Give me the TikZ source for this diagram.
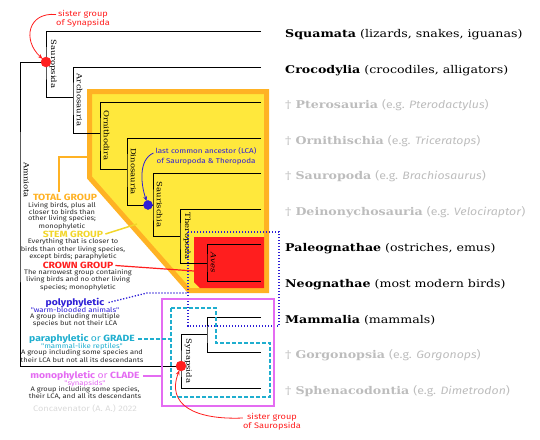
\documentclass[tikz,border=0pt]{standalone}
\usepackage{fontspec}
\setmainfont{DejaVu Serif}[FakeStretch=1.18]
\newfontfamily\annfont{Fira Sans}[FakeStretch=1.15]
\usepackage{xcolor}
\usetikzlibrary{arrows.meta}

\definecolor{crownred}{HTML}{FF1E1E}
\definecolor{totalorange}{HTML}{FFB224}
\definecolor{stemyellow}{HTML}{FFE83C}
\definecolor{stemtext}{HTML}{F2D62A}
\definecolor{polyblue}{HTML}{2E1ED6}
\definecolor{paracyan}{HTML}{1FAECF}
\definecolor{monopink}{HTML}{E46CF2}
\definecolor{extinctgray}{HTML}{BDBDBD}
\definecolor{bodygray}{HTML}{2A2A2A}
\definecolor{creditgray}{HTML}{DADADA}

\tikzset{
    branch/.style={line width=0.9pt},
    cladename/.style={rotate=-90, anchor=south, inner sep=1.5pt, font=\fontsize{7.2}{7.2}\selectfont},
    taxon/.style={anchor=base west, inner sep=0pt, font=\fontsize{10.7}{10.7}\selectfont},
    extinct/.style={taxon, text=extinctgray},
    grouphead/.style={inner sep=0pt, font=\annfont\bfseries\fontsize{9}{9}\selectfont},
    groupquote/.style={inner sep=0pt, font=\annfont\fontsize{6.8}{7}\selectfont},
    grouptext/.style={inner sep=0pt, align=center, text=bodygray, font=\annfont\fontsize{6.5}{5.9}\selectfont},
    totalline/.style={totalorange, line width=1.5pt},
    stemline/.style={stemtext, line width=1.5pt},
    crownline/.style={crownred, line width=1.2pt},
    polyline/.style={polyblue, line width=1.3pt, dash pattern=on 1.3pt off 1.7pt},
    paraline/.style={paracyan, line width=1.5pt, dash pattern=on 4pt off 2pt},
    monoline/.style={monopink, line width=1.5pt},
    sister/.style={crownred, line width=0.8pt, -{Stealth[length=5pt]}, shorten >=4.5pt},
    lcaarrow/.style={polyblue, line width=0.8pt, -{Stealth[length=5pt]}, shorten >=4pt},
}

\begin{document}
\begin{tikzpicture}[x=1pt, y=-1pt]
    \useasboundingbox (0,0) rectangle (540,439);

    \filldraw[fill=stemyellow, draw=totalorange, line width=5pt] (89.5,91.5) -- (266.5,91.5) -- (266.5,290.5) -- (189,290.5) -- (89.5,177.5) -- cycle;
    \fill[crownred] (194,237) -- (264,237) -- (264,288) -- (200,288) -- (194,282) -- cycle;

    \coordinate (squ) at (261,31);
    \coordinate (cro) at (261,67);
    \coordinate (pte) at (261,102);
    \coordinate (orn) at (261,138);
    \coordinate (sap) at (261,173);
    \coordinate (dei) at (261,209);
    \coordinate (pal) at (261,244);
    \coordinate (neo) at (261,281);
    \coordinate (mam) at (261,317);
    \coordinate (gor) at (261,352);
    \coordinate (sph) at (261,388);

    \coordinate (amniota) at (20,200);
    \coordinate (sauropsida) at (46,62);
    \coordinate (archosauria) at (73,97);
    \coordinate (ornithodira) at (100,133);
    \coordinate (dinosauria) at (127,169);
    \coordinate (saurischia) at (153,205);
    \coordinate (theropoda) at (180,236);
    \coordinate (aves) at (207,263);
    \coordinate (synapsida) at (181,366);
    \coordinate (mammgorg) at (207,334);
    \coordinate (lca) at (148,205);

    \draw[branch] (sauropsida) -| (amniota) |- (synapsida);
    \draw[branch] (squ) -| (sauropsida) |- (archosauria);
    \draw[branch] (cro) -| (archosauria) |- (ornithodira);
    \draw[branch] (pte) -| (ornithodira) |- (dinosauria);
    \draw[branch] (orn) -| (dinosauria) |- (saurischia);
    \draw[branch] (sap) -| (saurischia) |- (theropoda);
    \draw[branch] (dei) -| (theropoda) |- (aves);
    \draw[branch] (pal) -| (aves) |- (neo);
    \draw[branch] (mammgorg) -| (synapsida) |- (sph);
    \draw[branch] (mam) -| (mammgorg) |- (gor);

    \node[cladename] (amniotaname) at (22,180) {Amniota};
    \node[cladename] (sauropsidaname) at (48,64) {Sauropsida};
    \node[cladename] (archosaurianame) at (75,100) {Archosauria};
    \node[cladename] (ornithodiraname) at (102,135.5) {Ornithodira};
    \node[cladename] (dinosaurianame) at (129,171.5) {Dinosauria};
    \node[cladename] (saurischianame) at (155,204.5) {Saurischia};
    \node[cladename] (theropodaname) at (182,236) {Theropoda};
    \node[cladename] (avesname) at (209,262.5) {\textit{Aves}};
    \node[cladename] (synapsidaname) at (183,361) {Synapsida};

    \draw[polyline] (188,232) rectangle (279,326);
    \draw[paraline] (171,308) -- (216,308) -- (216,343) -- (270,343) -- (270,397) -- (171,397) -- cycle;
    \draw[monoline] (162,299) rectangle (274,406);

    \filldraw[crownred] (sauropsida) circle (5pt);
    \filldraw[crownred] (synapsida) circle (5pt);
    \filldraw[polyblue] (lca) circle (4.5pt);

    \node[taxon] (squlabel) at (285,37) {\textbf{Squamata} (lizards, snakes, iguanas)};
    \node[taxon] (crolabel) at (285,73) {\textbf{Crocodylia} (crocodiles, alligators)};
    \node[extinct] (ptelabel) at (285,108) {† \textbf{Pterosauria} {\annfont(e.g. \textit{Pterodactylus})}};
    \node[extinct] (ornlabel) at (285,144) {† \textbf{Ornithischia} {\annfont(e.g. \textit{Triceratops})}};
    \node[extinct] (saplabel) at (285,179) {† \textbf{Sauropoda} {\annfont(e.g. \textit{Brachiosaurus})}};
    \node[extinct] (deilabel) at (285,215) {† \textbf{Deinonychosauria} {\annfont(e.g. \textit{Velociraptor})}};
    \node[taxon] (pallabel) at (285,251) {\textbf{Paleognathae} (ostriches, emus)};
    \node[taxon] (neolabel) at (285,287) {\textbf{Neognathae} (most modern birds)};
    \node[taxon] (mamlabel) at (285,323) {\textbf{Mammalia} (mammals)};
    \node[extinct] (gorlabel) at (285,358) {† \textbf{Gorgonopsia} {\annfont(e.g. \textit{Gorgonops})}};
    \node[extinct] (sphlabel) at (285,394) {† \textbf{Sphenacodontia} {\annfont(e.g. \textit{Dimetrodon})}};

    \node[align=center, text=crownred, inner sep=0pt, font=\annfont\fontsize{8}{9}\selectfont] (sisterA) at (83,18.5) {sister group\\of Synapsida};
    \node[align=center, text=crownred, inner sep=0pt, font=\annfont\fontsize{8}{9}\selectfont] (sisterB) at (272,422) {sister group\\of Sauropsida};
    \draw[sister] ([yshift=4pt]sisterA.west) .. controls (28,12) and (22,40) .. (sauropsida);
    \draw[sister] ([yshift=4pt]sisterB.west) .. controls (195,420) and (166,405) .. (synapsida);

    \node[align=center, text=polyblue, inner sep=0pt, font=\annfont\fontsize{7}{10}\selectfont] (lcatext) at (206,156) {last common ancestor (LCA)\\of Sauropoda \& Theropoda};
    \draw[lcaarrow] ([xshift=-2pt, yshift=3pt]lcatext.west) .. controls (138,160) and (141,185) .. (lca);

    \node[grouphead, text=totalorange] (totalhead) at (65,197.5) {TOTAL GROUP};
    \node[grouptext] (totaltext) at (62,216) {Living birds, plus all\\closer to birds than\\other living species;\\monophyletic};
    \coordinate (totaltip) at (88,157);
    \draw[totalline] ([xshift=-6pt, yshift=2pt]totalhead.north) |- (totaltip);

    \node[grouphead, text=stemtext] (stemhead) at (73,234) {STEM GROUP};
    \node[grouptext] (stemtextnode) at (73,249.5) {Everything that is closer to\\birds than other living species,\\except birds; paraphyletic};
    \coordinate (stemtip) at (137,224);
    \draw[stemline] ([xshift=2pt]stemhead.east) -- (stemtip);

    \node[grouphead, text=crownred] (crownhead) at (78,265.5) {CROWN GROUP};
    \node[grouptext] (crowntext) at (78,280) {The narrowest group containing\\living birds and no other living\\species; monophyletic};
    \coordinate (crowntip) at (194,271);
    \draw[crownline] ([xshift=2pt]crownhead.east) -- (crowntip);

    \node[grouphead, text=polyblue] (polyhead) at (75,302.5) {polyphyletic};
    \node[groupquote, text=polyblue] (polyquote) at (75,310) {"warm-blooded animals"};
    \node[grouptext] (polytext) at (75,320) {A group including multiple\\species but not their LCA};
    \coordinate (polytip) at (188,293);
    \draw[polyline] ([xshift=4pt]polyhead.east) -- (147,293) -- (polytip);

    \node[grouphead, text=paracyan] (parahead) at (82,339) {paraphyletic {\mdseries or} GRADE};
    \node[groupquote, text=paracyan] (paraquote) at (82,346.5) {"mammal-like reptiles"};
    \node[grouptext] (paratext) at (82,356) {A group including some species and\\their LCA but not all its descendants};
    \coordinate (paratip) at (171,339);
    \draw[paraline] ([xshift=3pt]parahead.east) -- (paratip);

    \node[grouphead, text=monopink] (monohead) at (85,376) {monophyletic {\mdseries or} CLADE};
    \node[groupquote, text=monopink] (monoquote) at (85,383.5) {"synapsids"};
    \node[grouptext] (monotext) at (85,393) {A group including some species,\\their LCA, and all its descendants};
    \coordinate (monotip) at (162,376);
    \draw[monoline] ([xshift=3pt]monohead.east) -- (monotip);

    \node[text=creditgray, inner sep=0pt, font=\annfont\fontsize{8}{8}\selectfont] (credit) at (85,409) {Concavenator (A. A.) 2022};
\end{tikzpicture}
\end{document}
